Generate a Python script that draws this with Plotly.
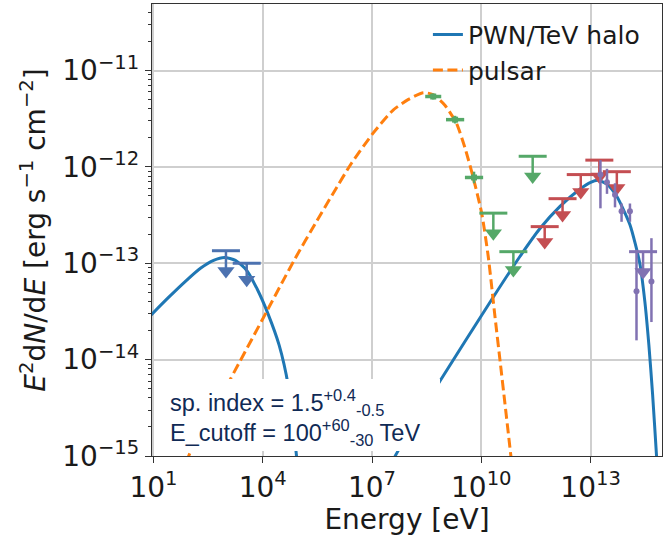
import numpy as np
import plotly.graph_objects as go

# ---------------- model curves: log10 E [eV], log10 E^2 dN/dE [erg s^-1 cm^-2] ----------------
pwn_lo_logE = [0.90, 1.40, 1.90, 2.30, 2.65, 2.95, 3.25, 3.55, 3.85, 4.15, 4.45, 4.70, 4.90, 4.98]
pwn_lo_logF = [-13.55, -13.36, -13.18, -13.05, -12.97, -12.94, -12.97, -13.07, -13.27, -13.53, -13.85, -14.27, -14.90, -15.20]
pwn_hi_logE = [7.50, 7.68, 8.87, 10.33, 11.06, 11.61, 12.16, 12.71, 13.00, 13.21, 13.45, 13.71, 14.08, 14.35, 14.49, 14.60, 14.70, 14.81, 14.86]
pwn_hi_logF = [-15.10, -14.97, -14.22, -13.35, -12.93, -12.64, -12.41, -12.23, -12.16, -12.14, -12.18, -12.30, -12.60, -13.00, -13.40, -13.85, -14.35, -15.00, -15.30]
psr_logE = [1.90, 2.00, 3.10, 4.11, 4.56, 4.89, 5.44, 5.94, 6.44, 7.03, 7.58, 8.00, 8.41, 8.67, 9.00, 9.32, 9.55, 9.77, 10.01, 10.19, 10.38, 10.52, 10.65, 10.77, 10.86]
psr_logF = [-15.07, -14.97, -14.21, -13.50, -13.18, -12.95, -12.59, -12.27, -11.96, -11.65, -11.41, -11.30, -11.23, -11.25, -11.36, -11.55, -11.80, -12.10, -12.48, -12.93, -13.57, -14.03, -14.46, -14.86, -15.16]

# ---------------- data: upper limits (marker value, cap value) ----------------
blue_ul_logE = [2.99, 3.56]
blue_ul_logF = [-13.08, -13.17]
blue_ul_cap = [-12.87, -13.00]

green_ul_logE = [10.33, 10.88, 11.41]
green_ul_logF = [-12.69, -13.07, -12.10]
green_ul_cap = [-12.48, -12.88, -11.89]

red_ul_logE = [11.74, 12.23, 12.73, 13.24, 13.72]
red_ul_logF = [-12.78, -12.50, -12.26, -12.10, -12.22]
red_ul_cap = [-12.62, -12.33, -12.08, -11.93, -12.05]

purple_ul_logE = [14.44]
purple_ul_logF = [-13.09]
purple_ul_cap = [-12.88]

# ---------------- data: detections ----------------
green_logE = [8.68, 9.28, 9.80]
green_logF = [-11.27, -11.51, -12.11]
green_dlogE = [0.22, 0.25, 0.25]
green_dlogF = [0.03, 0.04, 0.06]

purple_logE = [13.27, 13.45, 13.67, 13.85, 14.08, 14.26, 14.67]
purple_logF = [-12.08, -12.16, -12.29, -12.46, -12.46, -13.29, -13.19]
purple_hi = [-11.93, -12.02, -12.17, -12.38, -12.38, -12.86, -12.74]
purple_lo = [-12.43, -12.28, -12.42, -12.57, -12.57, -13.80, -13.61]

x_tick_exp = [1, 4, 7, 10, 13]
y_tick_exp = [-15, -14, -13, -12, -11]

C_BLUE_LINE = "#1f77b4"
C_ORANGE = "#ff7f0e"
C_BLUE = "#4c72b0"
C_GREEN = "#55a868"
C_RED = "#c44e52"
C_PURPLE = "#8172b2"

p = lambda a: np.power(10.0, np.asarray(a, dtype=float))

fig = go.Figure()

pwn_x = list(p(pwn_lo_logE)) + [None] + list(p(pwn_hi_logE))
pwn_y = list(p(pwn_lo_logF)) + [None] + list(p(pwn_hi_logF))
fig.add_trace(go.Scatter(x=pwn_x, y=pwn_y, mode="lines", name="PWN/TeV halo",
                         line=dict(color=C_BLUE_LINE, width=3, shape="spline", smoothing=0.6),
                         connectgaps=False))
fig.add_trace(go.Scatter(x=p(psr_logE), y=p(psr_logF), mode="lines", name="pulsar",
                         line=dict(color=C_ORANGE, width=3, dash="10px,4.5px", shape="spline", smoothing=0.6)))


def add_ul(logE, logF, cap, color):
    x = p(logE)
    y = p(logF)
    yc = p(cap)
    fig.add_trace(go.Scatter(x=x, y=y, mode="markers", showlegend=False,
                             marker=dict(symbol="triangle-down", size=15, color=color),
                             error_y=dict(type="data", symmetric=False, array=yc - y,
                                          arrayminus=np.zeros(len(y)), width=0,
                                          thickness=2.5, color=color)))
    fig.add_trace(go.Scatter(x=x, y=yc, mode="markers", showlegend=False,
                             marker=dict(symbol="line-ew", size=20,
                                         line=dict(color=color, width=3))))


add_ul(blue_ul_logE, blue_ul_logF, blue_ul_cap, C_BLUE)

gx = p(green_logE)
gy = p(green_logF)
gdx = np.asarray(green_dlogE)
gdy = np.asarray(green_dlogF)
fig.add_trace(go.Scatter(x=gx, y=gy, mode="markers", showlegend=False,
                         marker=dict(symbol="square", size=6, color=C_GREEN),
                         error_x=dict(type="data", symmetric=False, array=gx * (10 ** gdx - 1),
                                      arrayminus=gx * (1 - 10 ** (-gdx)), width=0, thickness=3.5, color=C_GREEN),
                         error_y=dict(type="data", symmetric=False, array=gy * (10 ** gdy - 1),
                                      arrayminus=gy * (1 - 10 ** (-gdy)), width=0, thickness=2.5, color=C_GREEN)))
add_ul(green_ul_logE, green_ul_logF, green_ul_cap, C_GREEN)
add_ul(red_ul_logE, red_ul_logF, red_ul_cap, C_RED)

px_ = p(purple_logE)
py_ = p(purple_logF)
fig.add_trace(go.Scatter(x=px_, y=py_, mode="markers", showlegend=False,
                         marker=dict(symbol="circle", size=6, color=C_PURPLE),
                         error_y=dict(type="data", symmetric=False, array=p(purple_hi) - py_,
                                      arrayminus=py_ - p(purple_lo), width=0, thickness=2.5, color=C_PURPLE)))
add_ul(purple_ul_logE, purple_ul_logF, purple_ul_cap, C_PURPLE)

# white box behind the fit-parameter text
fig.add_shape(type="rect", xref="paper", yref="paper", x0=0.004, x1=0.5647, y0=0.011, y1=0.1704,
              fillcolor="white", line=dict(width=0), layer="above")
# faint grey strip along the bottom edge of the picture
fig.add_shape(type="rect", xref="paper", yref="paper", x0=-0.3, x1=1.01, y0=-0.40, y1=-0.24,
              fillcolor="#f5f5f5", line=dict(width=0), layer="below")

txt_font = dict(family="Liberation Sans, Arial", size=23.5, color="#102a55")
fig.add_annotation(xref="paper", yref="paper", x=0.031, y=0.118, xanchor="left", yanchor="middle",
                   showarrow=False, align="left", font=txt_font,
                   text="sp. index = 1.5<sup>+0.4</sup><sub>-0.5</sub>")
fig.add_annotation(xref="paper", yref="paper", x=0.031, y=0.052, xanchor="left", yanchor="middle",
                   showarrow=False, align="left", font=txt_font,
                   text="E_cutoff = 100<sup>+60</sup><sub>-30</sub> TeV")

axis_common = dict(type="log", showline=True, linecolor="#333333", linewidth=1.2, mirror=True,
                   ticks="outside", ticklen=6, tickwidth=1.2, tickcolor="#333333",
                   showgrid=True, gridcolor="#cfcfcf", gridwidth=1.5, zeroline=False,
                   tickfont=dict(family="DejaVu Sans", size=28, color="#1a1a1a"))

fig.update_xaxes(**axis_common, range=[0.96, 14.96],
                 tickvals=[10.0 ** e for e in x_tick_exp],
                 ticktext=[f"10<sup>{e}</sup>" for e in x_tick_exp],
                 title=dict(text="Energy [eV]", font=dict(family="DejaVu Sans", size=28, color="#1a1a1a"),
                            standoff=8))
fig.update_yaxes(**axis_common, range=[-15.0, -10.31],
                 tickvals=[10.0 ** e for e in y_tick_exp],
                 ticktext=[f"10<sup>\u2212{-e}</sup>" for e in y_tick_exp],
                 minor=dict(ticks="outside", ticklen=3, tickwidth=1, tickcolor="#333333", showgrid=False,
                            dtick="D1"),
                 title=dict(text="<i>E</i><sup>2</sup>d<i>N</i>/d<i>E</i> [erg s<sup>\u22121</sup> cm<sup>\u22122</sup>]",
                            font=dict(family="DejaVu Sans", size=28, color="#1a1a1a"), standoff=8))

fig.update_layout(width=664, height=536, margin=dict(l=152, r=2, t=4, b=80, autoexpand=False),
                  plot_bgcolor="white", paper_bgcolor="white",
                  legend=dict(x=0.541, y=0.983, xanchor="left", yanchor="top", bgcolor="rgba(0,0,0,0)",
                              font=dict(family="DejaVu Sans", size=25, color="#1a1a1a"),
                              tracegroupgap=0),
                  showlegend=True)

fig.write_html("out.html")
